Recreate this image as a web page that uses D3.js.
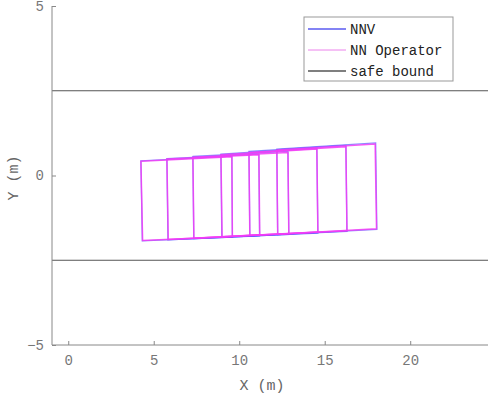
<!DOCTYPE html>
<html>
<head>
<meta charset="utf-8">
<script src="https://cdn.jsdelivr.net/npm/d3@7"></script>
<style>
    html, body { margin: 0; padding: 0; background: #fff; }
    svg { display: block; }
</style>
</head>
<body>
<div id="chart"></div>
<script>
(function () {
    'use strict';

    // Axis ticks and the two safe-bound lanes (metres)
    const xTicks = [0, 5, 10, 15, 20];
    const yTicks = [-5, 0, 5];
    const safeBounds = [2.5, -2.5];

    // Reachable sets per step, corners TL, TR, BR, BL as [x, y] in metres
    const nnvBoxes = [
        [[4.25, 0.43], [9.57, 0.57], [9.60, -1.82], [4.33, -1.93]],
        [[5.77, 0.50], [11.15, 0.63], [11.19, -1.78], [5.83, -1.90]],
        [[7.29, 0.56], [12.85, 0.71], [12.90, -1.74], [7.34, -1.86]],
        [[8.93, 0.63], [14.54, 0.81], [14.60, -1.70], [8.98, -1.82]],
        [[10.57, 0.71], [16.24, 0.89], [16.30, -1.65], [10.62, -1.78]],
        [[12.20, 0.78], [17.98, 0.96], [18.05, -1.59], [12.25, -1.74]]
    ];
    const operatorBoxes = [
        [[4.25, 0.42], [9.57, 0.55], [9.60, -1.80], [4.35, -1.92]],
        [[5.77, 0.49], [11.15, 0.61], [11.20, -1.75], [5.85, -1.89]],
        [[7.29, 0.54], [12.85, 0.68], [12.90, -1.71], [7.35, -1.85]],
        [[8.93, 0.61], [14.54, 0.78], [14.60, -1.67], [9.00, -1.81]],
        [[10.57, 0.68], [16.24, 0.85], [16.30, -1.63], [10.62, -1.77]],
        [[12.20, 0.75], [17.95, 0.93], [18.03, -1.57], [12.25, -1.73]]
    ];

    const legendItems = [
        {label: 'NNV', color: '#5a5af0', width: 1.6},
        {label: 'NN Operator', color: '#ec82ec', width: 1},
        {label: 'safe bound', color: '#555', width: 1.4}
    ];

    const W = 488, H = 396;
    const left = 52, right = 488, top = 6, bottom = 345;
    const tickFont = '"Liberation Mono", monospace';

    const svg = d3.select('#chart').append('svg').attr('width', W).attr('height', H);

    const x = d3.scaleLinear().domain([-0.95, 24.55]).range([left, right]);
    const y = d3.scaleLinear().domain([-5, 5]).range([bottom, top]);

    // Safe bounds
    svg.append('g').selectAll('line').data(safeBounds).join('line')
        .attr('x1', left).attr('x2', right)
        .attr('y1', d => y(d)).attr('y2', d => y(d))
        .attr('stroke', '#555').attr('stroke-width', 1);

    const poly = d3.line().x(d => x(d[0])).y(d => y(d[1])).curve(d3.curveLinearClosed);

    // NNV below, operator on top so the blue peeks through
    svg.append('g').selectAll('path').data(nnvBoxes).join('path')
        .attr('d', poly).attr('fill', 'none')
        .attr('stroke', '#4040ff').attr('stroke-width', 1.3).attr('opacity', 0.6);
    svg.append('g').selectAll('path').data(operatorBoxes).join('path')
        .attr('d', poly).attr('fill', 'none')
        .attr('stroke', '#f23cf6').attr('stroke-width', 1.5).attr('opacity', 0.85);

    // Axes (box off, ticks inward)
    const axisColor = '#888';
    const xAxis = svg.append('g').attr('transform', `translate(0,${bottom})`)
        .call(d3.axisBottom(x).tickValues(xTicks).tickSizeInner(-4).tickSizeOuter(0).tickPadding(10));
    const yAxis = svg.append('g').attr('transform', `translate(${left},0)`)
        .call(d3.axisLeft(y).tickValues(yTicks).tickSizeInner(-4).tickSizeOuter(0).tickPadding(8)
            .tickFormat(d => d < 0 ? '\u2212' + Math.abs(d) : d));
    [xAxis, yAxis].forEach(a => {
        a.select('.domain').attr('stroke', axisColor);
        a.selectAll('line').attr('stroke', axisColor);
        a.selectAll('text').attr('fill', '#777').attr('font-size', '14px').attr('font-family', tickFont);
    });
    xAxis.select('.domain').attr('d', `M${left},0H${right}`);
    yAxis.select('.domain').attr('d', `M0,${bottom}V${top}`);

    // Axis labels
    svg.append('text').attr('x', 262).attr('y', 390).attr('text-anchor', 'middle')
        .attr('font-family', tickFont).attr('font-size', '15px').attr('fill', '#666')
        .text('X (m)');
    svg.append('text').attr('transform', 'translate(18,178) rotate(-90)').attr('text-anchor', 'middle')
        .attr('font-family', tickFont).attr('font-size', '15px').attr('fill', '#666')
        .text('Y (m)');

    // Legend
    const lg = svg.append('g').attr('transform', 'translate(304,17)');
    lg.append('rect').attr('width', 149).attr('height', 64)
        .attr('fill', '#fff').attr('stroke', '#999').attr('stroke-width', 1);
    legendItems.forEach((d, i) => {
        const ly = 12 + i * 21;
        lg.append('line').attr('x1', 4).attr('x2', 42).attr('y1', ly).attr('y2', ly)
            .attr('stroke', d.color).attr('stroke-width', d.width);
        lg.append('text').attr('x', 46).attr('y', ly + 5)
            .attr('font-family', tickFont).attr('font-size', '14px').attr('fill', '#222')
            .text(d.label);
    });
})();
</script>
</body>
</html>
